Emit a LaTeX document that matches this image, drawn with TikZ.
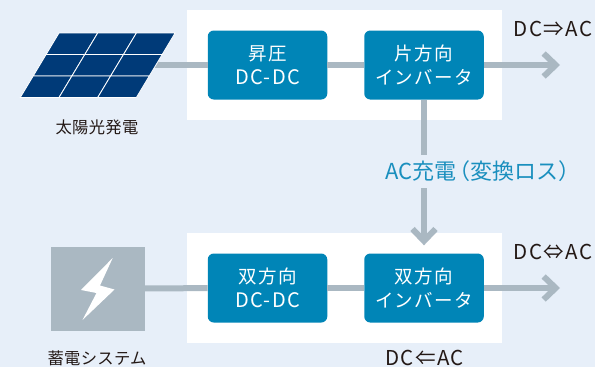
\documentclass[tikz,border=0pt]{standalone}
\usepackage{fontspec}
\setmainfont{Noto Sans CJK JP}
\newfontfamily\spaced[LetterSpace=7]{Noto Sans CJK JP}
\newfontfamily\tight[LetterSpace=2]{Noto Sans CJK JP}
\usetikzlibrary{arrows.meta}
\definecolor{bgblue}{HTML}{E7EFF9}
\definecolor{boxblue}{HTML}{0085B7}
\definecolor{linegray}{HTML}{AAB8C2}
\definecolor{panelblue}{HTML}{003A78}
\definecolor{labelblue}{HTML}{1A8FBE}
\definecolor{textdark}{HTML}{231815}
\tikzset{
	whitepanel/.style={fill=white},
	unitbox/.style={fill=boxblue, rounded corners=6, minimum width=119.5, minimum height=69, inner sep=0, align=center, text=white, font=\spaced\fontsize{18.5}{24}\selectfont},
	wire/.style={draw=linegray, line width=6},
	flow/.style={wire, -{Straight Barb[length=12, width=23]}},
	caption/.style={text=textdark, font=\tight\fontsize{16.3}{18}\selectfont, inner sep=0},
	modelabel/.style={text=textdark, font=\spaced\fontsize{20.5}{22}\selectfont, inner sep=0},
	cell/.style={fill=panelblue, draw=white, line width=0.8}
}
\newcommand{\latinbig}[1]{{\fontsize{20}{24}\selectfont #1}}
\begin{document}
\begin{tikzpicture}[x=1pt, y=-1pt]
	\useasboundingbox (0, 0) rectangle (595, 367);
	\clip (0, 0) rectangle (595, 367);
	\fill[bgblue] (0, 0) rectangle (595, 367);

	% white backings
	\fill[whitepanel] (187, 10) rectangle (502, 120);
	\fill[whitepanel] (187, 233) rectangle (502, 343);

	% units
	\node[unitbox] (boost) at (267.5, 65) {昇圧\\\latinbig{DC-DC}};
	\node[unitbox] (uniinv) at (424, 65) {片方向\\インバータ};
	\node[unitbox] (bidc) at (267.5, 288) {双方向\\\latinbig{DC-DC}};
	\node[unitbox] (biinv) at (424, 288) {双方向\\インバータ};

	\coordinate (panelout) at (150, 65);
	\coordinate (uniout) at (560, 65);
	\coordinate (biout) at (560, 288);

	% battery
	\node[fill=linegray, minimum width=94, minimum height=84, inner sep=0] (battery) at (97.5, 288.5) {};
	\fill[white] (112.7, 258) -- (81, 290) -- (96.5, 293) -- (82.5, 320) -- (114.5, 289.5) -- (100, 285.5) -- cycle;

	% wires
	\draw[wire] (panelout) -- (boost);
	\draw[wire] (boost) -- (uniinv);
	\draw[flow] (uniinv) -- (uniout);
	\draw[wire] (battery) -- (bidc);
	\draw[wire] (bidc) -- (biinv);
	\draw[flow] (biinv) -- (biout);
	\draw[flow, shorten >=8] (uniinv) -- (biinv);

	% solar panel, row by row
	\foreach \row in {0, 1, 2} {
		\foreach \col in {0, 1, 2} {
			\pgfmathsetmacro{\xa}{59 - 12.9*\row + 38.7*\col}
			\pgfmathsetmacro{\xb}{\xa + 38.7}
			\pgfmathsetmacro{\ya}{33 + 21.5*\row}
			\draw[cell] (\xa, \ya) -- (\xb, \ya) -- (\xb - 12.9, \ya + 21.5) -- (\xa - 12.9, \ya + 21.5) -- cycle;
		}
	}

	% texts
	\node[caption] (solarname) at (97, 127) {太陽光発電};
	\node[caption] (batteryname) at (97, 358.5) {蓄電システム};
	\node[modelabel] (unimode) at (553, 29) {DC⇒AC};
	\node[modelabel] (bimode) at (553, 252) {DC⇔AC};
	\node[modelabel] (backmode) at (424.5, 357.5) {DC⇐AC};
	\node[fill=bgblue, text=labelblue, font=\fontsize{22}{24}\selectfont, inner xsep=0, inner ysep=0, minimum height=33, anchor=west] (charge) at (385, 171.5) {AC充電\kern-8pt（変換ロス）};
\end{tikzpicture}
\end{document}
